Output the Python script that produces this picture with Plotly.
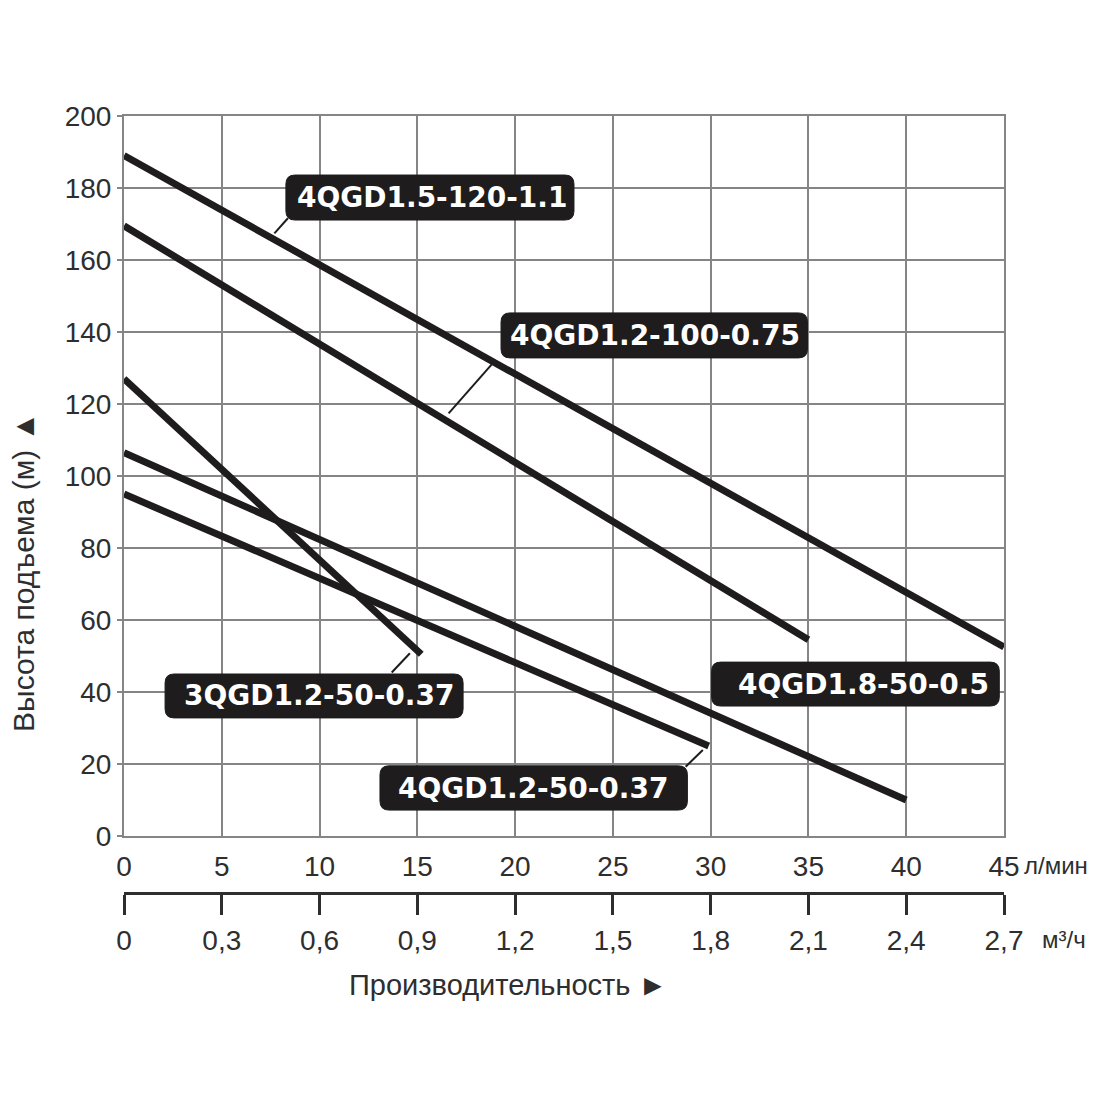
import plotly.graph_objects as go

# pump curves: flow (l/min) vs head (m)
pumps = ['4QGD1.5-120-1.1', '4QGD1.2-100-0.75', '3QGD1.2-50-0.37',
         '4QGD1.8-50-0.5', '4QGD1.2-50-0.37']
flow_15_120 = [0, 45]
head_15_120 = [189, 52.5]
flow_12_100 = [0, 35]
head_12_100 = [169.5, 54.5]
flow_3_12_50 = [0, 15.2]
head_3_12_50 = [127, 50.5]
flow_18_50 = [0, 40]
head_18_50 = [106.5, 10]
flow_12_50 = [0, 29.9]
head_12_50 = [95, 25]

flow_ticks = list(range(0, 50, 5))
m3h_vals = [0, 0.3, 0.6, 0.9, 1.2, 1.5, 1.8, 2.1, 2.4, 2.7]
m3h_text = ['0', '0,3', '0,6', '0,9', '1,2', '1,5', '1,8', '2,1', '2,4', '2,7']

INK = '#1e1c1c'
GRID = '#858585'
TXT = '#2e2e2e'

# px per data unit (plot area 880 x 720 px)
PX_X = 880 / 45
PX_Y = 720 / 200

fig = go.Figure()
series = [(flow_15_120, head_15_120), (flow_12_100, head_12_100),
          (flow_3_12_50, head_3_12_50), (flow_18_50, head_18_50),
          (flow_12_50, head_12_50)]
for name, (fx, hy) in zip(pumps, series):
    fig.add_trace(go.Scatter(x=fx, y=hy, mode='lines', name=name,
                             line=dict(color=INK, width=7), showlegend=False))

# empty trace so the m3/h scale gets drawn
fig.add_trace(go.Scatter(x=m3h_vals, y=[None] * len(m3h_vals), xaxis='x2',
                         showlegend=False, hoverinfo='skip'))


def rbox(x0, x1, y0, y1, r=9):
    rx, ry = r / PX_X, r / PX_Y
    return (f"M {x0+rx},{y0} L {x1-rx},{y0} Q {x1},{y0} {x1},{y0+ry} "
            f"L {x1},{y1-ry} Q {x1},{y1} {x1-rx},{y1} L {x0+rx},{y1} "
            f"Q {x0},{y1} {x0},{y1-ry} L {x0},{y0+ry} Q {x0},{y0} {x0+rx},{y0} Z")


# label boxes (x0, x1, y0, y1), text centre, leader line
boxes = [(8.28, 23.01, 171.1, 183.6), (19.28, 34.95, 132.8, 145.3),
         (2.10, 17.34, 32.8, 45.0), (30.05, 44.76, 36.1, 48.3),
         (13.09, 28.81, 7.2, 19.5)]
text_pos = [(15.77, 177.4), (27.15, 139.0), (9.95, 38.9), (37.79, 42.2), (20.91, 13.3)]
leaders = [(8.38, 171.6, 7.69, 167.4), (18.85, 131.3, 16.60, 117.4),
           (13.69, 45.4, 14.62, 50.75), None, (28.72, 19.25, 29.6, 23.9)]

for name, b, tp, ld in zip(pumps, boxes, text_pos, leaders):
    if ld:
        fig.add_shape(type='line', x0=ld[0], y0=ld[1], x1=ld[2], y1=ld[3],
                      line=dict(color=INK, width=2))
    fig.add_shape(type='path', path=rbox(*b), fillcolor=INK,
                  line=dict(color=INK, width=1))
    fig.add_annotation(x=tp[0], y=tp[1], text=name, showarrow=False,
                       font=dict(family='DejaVu Sans', size=28, color='white', weight='bold'))

# axis captions
cap = dict(xref='paper', yref='paper', showarrow=False, yanchor='middle')
fig.add_annotation(x=-0.115, y=0.413, text='Высота подъема (м) ▲', textangle=-90, xanchor='center',
                   font=dict(family='Liberation Sans', size=30, color=TXT), **cap)
fig.add_annotation(x=0.436, y=-0.118, text='Производительность ►', xanchor='center',
                   font=dict(family='Liberation Sans', size=29, color=TXT), **cap)
fig.add_annotation(x=1.021, y=0.035, xanchor='left', text='л/мин',
                   font=dict(family='Liberation Sans', size=24, color=TXT), **cap)
fig.add_annotation(x=1.041, y=-0.06, xanchor='left', text='м³/ч',
                   font=dict(family='Liberation Sans', size=24, color=TXT), **cap)

fig.update_layout(
    width=1100, height=1100,
    margin=dict(l=116, r=104, t=108, b=215),
    paper_bgcolor='white', plot_bgcolor='white',
    font=dict(family='Liberation Sans', size=28, color=TXT),
    xaxis=dict(range=[0, 45], tickvals=flow_ticks, showgrid=True, gridcolor=GRID, gridwidth=2,
               showline=True, linecolor=GRID, linewidth=2, mirror=True, zeroline=False,
               ticks='', ticklabelstandoff=4, anchor='y'),
    yaxis=dict(range=[0, 200], dtick=20, showgrid=True, gridcolor=GRID, gridwidth=2,
               showline=True, linecolor=GRID, linewidth=2, mirror=True, zeroline=False,
               ticks='outside', ticklen=5, tickcolor=GRID, tickwidth=2,
               domain=[(893 - 836) / 777, 1]),
    xaxis2=dict(range=[0, 2.7], tickvals=m3h_vals, ticktext=m3h_text, overlaying='x',
                anchor='free', position=0, side='bottom', showgrid=False, zeroline=False,
                showline=True, linecolor=TXT, linewidth=3, ticks='outside', ticklen=20,
                tickwidth=3, tickcolor=TXT, ticklabelstandoff=1),
)

fig.write_html('out.html')
